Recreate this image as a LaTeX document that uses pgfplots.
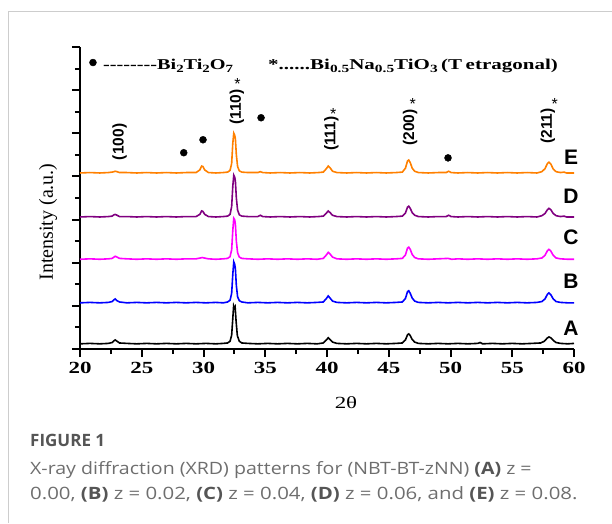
\documentclass[border=0pt]{standalone}
\usepackage{fontspec}
\setmainfont{Liberation Serif}
\newfontfamily\arial{Liberation Sans}
\newfontfamily\opensans{Open Sans}
\usepackage{graphicx}
\usepackage{pgfplots}
\pgfplotsset{compat=1.18}
\usepackage{pgfplotstable}

\definecolor{eorange}{RGB}{255,128,0}
\definecolor{dpurple}{RGB}{128,0,128}
\definecolor{cmag}{RGB}{255,0,255}
\definecolor{bblue}{RGB}{0,0,255}
\definecolor{capgray}{RGB}{110,110,110}
\definecolor{capdark}{RGB}{85,85,85}
\definecolor{cardline}{RGB}{205,205,205}

% horizontal stretch, the source figure is wider than tall
\newcommand{\sx}[1]{\scalebox{1.35}[1]{#1}}
\newcommand{\sub}[1]{\raisebox{-0.45ex}{\fontsize{11}{11}\selectfont #1}}

% relative intensities, each pattern is shifted up in the plot
\pgfplotstableread{
x y
20.0 0.00
20.8 0.01
21.6 0.00
22.3 0.01
22.6 0.03
22.75 0.07
22.85 0.09
23.0 0.06
23.2 0.02
23.8 0.01
24.6 0.00
25.4 0.01
26.2 0.00
27.0 0.01
27.8 0.00
28.6 0.01
29.4 0.00
30.2 0.01
31.0 0.00
31.6 0.01
31.95 0.02
32.15 0.06
32.28 0.20
32.37 0.58
32.44 0.88
32.5 0.83
32.56 0.86
32.64 0.52
32.74 0.19
32.9 0.06
33.1 0.02
33.6 0.01
34.4 0.00
35.2 0.01
36.0 0.00
36.8 0.01
37.6 0.00
38.4 0.01
39.2 0.00
39.7 0.02
39.95 0.09
40.1 0.14
40.25 0.10
40.45 0.04
40.8 0.01
41.6 0.00
42.4 0.01
43.2 0.00
44.0 0.01
44.8 0.00
45.6 0.01
46.1 0.02
46.35 0.09
46.52 0.21
46.62 0.23
46.74 0.19
46.9 0.10
47.1 0.04
47.4 0.01
48.2 0.00
49.0 0.01
49.8 0.00
50.6 0.01
51.4 0.00
52.2 0.01
52.4 0.03
52.6 0.00
53.4 0.01
54.2 0.00
55.0 0.01
55.8 0.00
56.6 0.01
57.3 0.02
57.6 0.06
57.82 0.13
57.97 0.16
58.12 0.14
58.32 0.08
58.55 0.03
58.9 0.01
59.5 0.00
60.0 0.01
}\dataA

\pgfplotstableread{
x y
20.0 0.00
20.8 0.01
21.6 0.00
22.3 0.01
22.6 0.03
22.75 0.07
22.85 0.09
23.0 0.05
23.2 0.02
23.8 0.00
24.6 0.01
25.4 0.00
26.2 0.01
27.0 0.00
27.8 0.01
28.6 0.00
29.4 0.01
30.2 0.00
31.0 0.01
31.6 0.00
31.95 0.02
32.15 0.06
32.28 0.22
32.37 0.65
32.45 0.95
32.52 0.90
32.58 0.80
32.66 0.40
32.76 0.14
32.9 0.05
33.1 0.02
33.6 0.00
34.4 0.01
35.2 0.00
36.0 0.01
36.8 0.00
37.6 0.01
38.4 0.00
39.2 0.01
39.7 0.02
39.95 0.10
40.1 0.16
40.25 0.11
40.45 0.04
40.8 0.01
41.6 0.00
42.4 0.01
43.2 0.00
44.0 0.01
44.8 0.00
45.6 0.01
46.1 0.02
46.35 0.10
46.52 0.26
46.62 0.28
46.74 0.22
46.9 0.11
47.1 0.04
47.4 0.01
48.2 0.00
49.0 0.01
49.8 0.00
50.6 0.01
51.4 0.00
52.2 0.01
53.0 0.00
53.8 0.01
54.6 0.00
55.4 0.01
56.2 0.00
57.0 0.01
57.4 0.03
57.65 0.09
57.85 0.20
57.97 0.23
58.12 0.19
58.32 0.09
58.55 0.03
58.9 0.01
59.5 0.00
60.0 0.00
}\dataB

\pgfplotstableread{
x y
20.0 0.00
20.8 0.01
21.6 0.00
22.3 0.01
22.6 0.02
22.75 0.05
22.85 0.07
23.0 0.05
23.2 0.02
23.8 0.01
24.6 0.00
25.4 0.01
26.2 0.00
27.0 0.01
27.8 0.00
28.6 0.01
29.4 0.01
29.75 0.03
29.9 0.04
30.05 0.03
30.4 0.01
31.0 0.00
31.6 0.01
31.95 0.02
32.15 0.06
32.28 0.22
32.37 0.66
32.45 0.95
32.52 0.92
32.58 0.82
32.66 0.42
32.76 0.15
32.9 0.05
33.1 0.02
33.6 0.01
34.4 0.00
35.2 0.01
36.0 0.00
36.8 0.01
37.6 0.00
38.4 0.01
39.2 0.00
39.7 0.02
39.95 0.10
40.1 0.16
40.25 0.12
40.45 0.05
40.8 0.01
41.6 0.00
42.4 0.01
43.2 0.00
44.0 0.01
44.8 0.00
45.6 0.01
46.1 0.02
46.35 0.10
46.52 0.26
46.62 0.28
46.74 0.23
46.9 0.11
47.1 0.04
47.4 0.01
48.2 0.00
49.0 0.01
49.8 0.02
50.1 0.00
50.6 0.01
51.4 0.00
52.2 0.01
53.0 0.00
53.8 0.01
54.6 0.00
55.4 0.01
56.2 0.00
57.0 0.01
57.4 0.03
57.65 0.09
57.85 0.20
57.97 0.23
58.12 0.19
58.32 0.09
58.55 0.03
58.9 0.01
59.5 0.00
60.0 0.00
}\dataC

\pgfplotstableread{
x y
20.0 0.00
20.8 0.01
21.6 0.00
22.3 0.01
22.6 0.02
22.75 0.05
22.85 0.06
23.0 0.04
23.2 0.01
23.8 0.01
24.6 0.00
25.4 0.01
26.2 0.00
27.0 0.01
27.8 0.00
28.6 0.01
29.4 0.01
29.7 0.06
29.85 0.14
29.95 0.13
30.1 0.06
30.4 0.01
31.0 0.00
31.6 0.01
31.95 0.02
32.15 0.06
32.28 0.24
32.37 0.70
32.45 0.97
32.52 0.93
32.58 0.84
32.66 0.44
32.76 0.16
32.9 0.05
33.1 0.02
33.6 0.01
34.4 0.01
34.6 0.04
34.8 0.01
35.4 0.00
36.2 0.01
37.0 0.00
37.8 0.01
38.6 0.00
39.3 0.01
39.7 0.02
39.95 0.09
40.1 0.14
40.25 0.10
40.45 0.04
40.8 0.01
41.6 0.00
42.4 0.01
43.2 0.00
44.0 0.01
44.8 0.00
45.6 0.01
46.1 0.02
46.35 0.09
46.52 0.23
46.62 0.25
46.74 0.20
46.9 0.10
47.1 0.04
47.4 0.01
48.2 0.00
49.0 0.01
49.65 0.01
49.85 0.04
50.05 0.01
50.6 0.00
51.4 0.01
52.2 0.00
53.0 0.01
53.8 0.00
54.6 0.01
55.4 0.00
56.2 0.01
57.0 0.00
57.4 0.03
57.65 0.08
57.85 0.17
57.97 0.20
58.12 0.17
58.32 0.08
58.55 0.03
58.9 0.01
59.2 0.02
59.4 0.00
60.0 0.00
}\dataD

\pgfplotstableread{
x y
20.0 0.00
20.8 0.01
21.6 0.00
22.3 0.01
22.6 0.02
22.75 0.03
22.85 0.04
23.0 0.03
23.2 0.01
23.8 0.01
24.6 0.00
25.4 0.01
26.2 0.00
27.0 0.01
27.8 0.00
28.6 0.01
29.4 0.01
29.7 0.07
29.85 0.16
29.95 0.15
30.1 0.07
30.4 0.01
31.0 0.00
31.6 0.01
31.95 0.02
32.15 0.06
32.28 0.22
32.37 0.68
32.45 0.92
32.52 0.88
32.58 0.80
32.66 0.42
32.76 0.15
32.9 0.05
33.1 0.02
33.6 0.01
34.4 0.01
34.6 0.03
34.8 0.01
35.4 0.00
36.2 0.01
37.0 0.00
37.8 0.01
38.6 0.00
39.3 0.01
39.7 0.02
39.95 0.10
40.1 0.16
40.25 0.12
40.45 0.04
40.8 0.01
41.6 0.00
42.4 0.01
43.2 0.00
44.0 0.01
44.8 0.00
45.6 0.01
46.1 0.02
46.35 0.11
46.52 0.28
46.62 0.30
46.74 0.24
46.9 0.11
47.1 0.04
47.4 0.01
48.2 0.00
49.0 0.01
49.65 0.01
49.85 0.04
50.05 0.01
50.6 0.00
51.4 0.01
52.2 0.00
53.0 0.01
53.8 0.00
54.6 0.01
55.4 0.00
56.2 0.01
57.0 0.00
57.4 0.03
57.65 0.10
57.85 0.22
57.97 0.25
58.12 0.21
58.32 0.09
58.55 0.03
58.9 0.01
59.2 0.02
59.4 0.00
60.0 0.00
}\dataE

\begin{document}
\begin{tikzpicture}
% page = 612 x 523 px, axis corner at px (80,349)
\useasboundingbox (-80pt,-174pt) rectangle (532pt,349pt);
\draw[cardline, line width=1pt] (-71pt,-174pt) -- (-71pt,337pt) -- (532pt,337pt);

\begin{axis}[
  at={(0,0)}, anchor=south west,
  scale only axis,
  width=494pt, height=302pt,
  xmin=20, xmax=60,
  ymin=0, ymax=7,
  axis x line*=bottom,
  axis y line*=left,
  axis line style={line width=2.2pt, -},
  tick align=outside,
  major tick length=8pt,
  minor tick length=5pt,
  every tick/.style={black, line width=2pt},
  xtick={20,25,...,60},
  xticklabels={\sx{20},\sx{25},\sx{30},\sx{35},\sx{40},\sx{45},\sx{50},\sx{55},\sx{60}},
  minor x tick num=1,
  ytick={0,1,...,7},
  yticklabels={},
  minor y tick num=1,
  xticklabel style={font=\fontsize{17}{17}\selectfont\bfseries, inner sep=1pt, yshift=-4pt},
  clip=false,
]
\addplot[black, line width=1.6pt] table[x=x, y expr=\thisrow{y}+0.12] {\dataA};
\addplot[bblue, line width=1.6pt] table[x=x, y expr=\thisrow{y}+1.07] {\dataB};
\addplot[cmag, line width=1.6pt] table[x=x, y expr=\thisrow{y}+2.08] {\dataC};
\addplot[dpurple, line width=1.6pt] table[x=x, y expr=\thisrow{y}+3.06] {\dataD};
\addplot[eorange, line width=1.6pt] table[x=x, y expr=\thisrow{y}+4.08] {\dataE};

% Bi2Ti2O7 markers
\addplot[only marks, mark=*, mark size=3.5pt, black] coordinates
  {(21.05,6.64) (28.4,4.55) (29.96,4.85) (34.66,5.36) (49.8,4.43)};

% reflections of the tetragonal phase
\begin{scope}[every node/.style={rotate=90, font=\arial\bfseries\fontsize{15.5}{15.5}\selectfont}]
\node at (axis cs:23.2,4.80) {(100)};
\node at (axis cs:32.71,5.61) {(110)};
\node at (axis cs:40.35,4.99) {(111)};
\node at (axis cs:46.72,5.13) {(200)};
\node at (axis cs:57.89,5.17) {(211)};
\end{scope}
\begin{scope}[every node/.style={font=\arial\fontsize{16}{16}\selectfont}]
\node at (axis cs:32.75,6.15) {*};
\node at (axis cs:40.5,5.45) {*};
\node at (axis cs:46.95,5.68) {*};
\node at (axis cs:58.45,5.68) {*};
\end{scope}

\begin{scope}[every node/.style={font=\arial\bfseries\fontsize{21}{21}\selectfont}]
\node at (axis cs:59.76,4.45) {E};
\node at (axis cs:59.76,3.53) {D};
\node at (axis cs:59.76,2.58) {C};
\node at (axis cs:59.76,1.58) {B};
\node at (axis cs:59.76,0.49) {A};
\end{scope}
\end{axis}

% phase key at the top
\node[anchor=base west, inner sep=0pt, font=\bfseries\fontsize{15}{15}\selectfont]
  at (23pt,280pt) {\sx{-{}-{}-{}-{}-{}-{}-{}-Bi\sub{2}Ti\sub{2}O\sub{7}}};
\node[anchor=base west, inner sep=0pt, font=\bfseries\fontsize{15}{15}\selectfont]
  at (188pt,280pt) {\scalebox{1.4}[1]{*......Bi\sub{0.5}Na\sub{0.5}TiO\sub{3}\,(T\,etragonal)}};

% axis titles
\node[font=\fontsize{17}{17}\selectfont] at (266pt,-54pt) {\sx{2θ}};
\node[rotate=90, font=\fontsize{20}{20}\selectfont] at (-32pt,127pt) {Intensity (a.u.)};

% caption
\node[anchor=base west, inner sep=0pt, text=capdark, font=\opensans\bfseries\fontsize{17}{17}\selectfont]
  at (-50pt,-97pt) {FIGURE 1};
\node[anchor=base west, inner sep=0pt, text=capgray, font=\opensans\fontsize{17}{17}\selectfont]
  at (-50pt,-125pt) {\scalebox{1.15}[1]{X-ray diffraction (XRD) patterns for (NBT-BT-zNN) \textcolor{capdark}{\textbf{(A)}} z =}};
\node[anchor=base west, inner sep=0pt, text=capgray, font=\opensans\fontsize{17}{17}\selectfont]
  at (-50pt,-150pt) {\scalebox{1.2}[1]{0.00, \textcolor{capdark}{\textbf{(B)}} z = 0.02, \textcolor{capdark}{\textbf{(C)}} z = 0.04, \textcolor{capdark}{\textbf{(D)}} z = 0.06, and \textcolor{capdark}{\textbf{(E)}} z = 0.08.}};
\end{tikzpicture}
\end{document}
